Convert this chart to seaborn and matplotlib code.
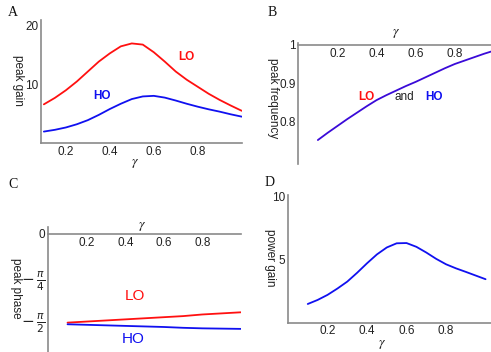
# four-panel figure: peak gain / frequency / phase / power gain vs gamma

import matplotlib
matplotlib.use("Agg")
import matplotlib.pyplot as plt
import seaborn as sns

# data
gamma = [0.1, 0.15, 0.2, 0.25, 0.3, 0.35, 0.4, 0.45, 0.5, 0.55,
         0.6, 0.65, 0.7, 0.75, 0.8, 0.85, 0.9, 0.95, 1.0]
lo_gain = [6.6, 7.7, 9.0, 10.5, 12.2, 13.9, 15.3, 16.5, 17.0, 16.8,
           15.5, 13.9, 12.2, 10.8, 9.6, 8.4, 7.35, 6.4, 5.5]
ho_gain = [1.95, 2.25, 2.65, 3.2, 3.9, 4.8, 5.8, 6.7, 7.5, 7.95,
           8.05, 7.75, 7.25, 6.7, 6.2, 5.75, 5.35, 4.9, 4.5]
peak_freq = [0.750, 0.769, 0.787, 0.805, 0.822, 0.839, 0.855, 0.868, 0.880, 0.892,
             0.903, 0.915, 0.927, 0.939, 0.950, 0.959, 0.968, 0.977, 0.985]
power_gain = [1.48, 1.8, 2.2, 2.7, 3.25, 3.95, 4.7, 5.4, 5.95, 6.28,
              6.3, 6.0, 5.55, 5.05, 4.62, 4.3, 4.02, 3.73, 3.44]

gamma_c = [0.1, 0.2, 0.3, 0.4, 0.5, 0.6, 0.7, 0.8, 0.9, 1.0]
lo_phase = [-1.63, -1.61, -1.59, -1.57, -1.55, -1.53, -1.51, -1.48, -1.46, -1.44]
ho_phase = [-1.66, -1.67, -1.68, -1.69, -1.70, -1.71, -1.725, -1.735, -1.74, -1.745]

x_ticks = [0.2, 0.4, 0.6, 0.8]
x_tick_labels = ["0.2", "0.4", "0.6", "0.8"]
phase_ticks = [0, -0.7853981634, -1.5707963268]
phase_tick_labels = ["0", r"$-\,\frac{\pi}{4}$", r"$-\,\frac{\pi}{2}$"]

RED = "#ff1010"
BLUE = "#1010f0"
MIX = "#3a0ad8"
SPINE = "#8a8a8a"

sns.set_style("white")
plt.rcParams["font.family"] = ["Liberation Sans", "DejaVu Sans"]
plt.rcParams["mathtext.fontset"] = "dejavusans"

W, H = 491, 352
fig = plt.figure(figsize=(W / 100, H / 100), dpi=100)


def style_axes(ax):
    for side in ["top", "right"]:
        ax.spines[side].set_visible(False)
    for side in ["left", "bottom"]:
        ax.spines[side].set_color(SPINE)
        ax.spines[side].set_linewidth(1.2)
    ax.tick_params(direction="in", length=2.5, width=0.8, color=SPINE,
                   labelsize=8.5, labelcolor="#222222", pad=2)
    ax.set_xticks(x_ticks)
    ax.set_xticklabels(x_tick_labels)
    ax.set_xlabel("")
    ax.set_ylabel("")


def gamma_label(ax, x, y, va):
    ax.text(x, y, r"$\gamma$", transform=ax.transData, ha="center", va=va,
            fontsize=10, math_fontfamily="stix", color="#222222", clip_on=False)


def px(x, y):
    return x / W, 1 - y / H


# A: peak gain
ax_a = fig.add_axes([41 / W, 1 - 143 / H, 200.7 / W, 123 / H])
sns.lineplot(x=gamma, y=lo_gain, ax=ax_a, color=RED, lw=1.3)
sns.lineplot(x=gamma, y=ho_gain, ax=ax_a, color=BLUE, lw=1.3)
ax_a.set_xlim(0.087, 1.0)
ax_a.set_ylim(0, 21)
style_axes(ax_a)
ax_a.set_yticks([10, 20])
ax_a.set_yticklabels(["10", "20"])
ax_a.text(0.75, 14.65, "LO", color=RED, fontsize=8.5, fontweight="bold", ha="center", va="center")
ax_a.text(0.363, 8.0, "HO", color=BLUE, fontsize=8.5, fontweight="bold", ha="center", va="center")
gamma_label(ax_a, 0.515, -2.3, "top")

# B: peak frequency
ax_b = fig.add_axes([298.3 / W, 1 - 164 / H, 192.7 / W, 121.3 / H])
sns.lineplot(x=gamma, y=peak_freq, ax=ax_b, color=MIX, lw=1.3)
ax_b.set_xlim(0, 0.985)
ax_b.set_ylim(0.687, 1.006)
style_axes(ax_b)
ax_b.spines["bottom"].set_position(("data", 1.0))
ax_b.set_yticks([0.8, 0.9, 1.0])
ax_b.set_yticklabels(["0.8", "0.9", "1"])
ax_b.text(0.346, 0.863, "LO", color=RED, fontsize=8.5, fontweight="bold", ha="center", va="center")
ax_b.text(0.54, 0.863, "and", color="#222222", fontsize=8.5, ha="center", va="center")
ax_b.text(0.694, 0.863, "HO", color=BLUE, fontsize=8.5, fontweight="bold", ha="center", va="center")
gamma_label(ax_b, 0.5, 1.012, "bottom")

# C: peak phase
ax_c = fig.add_axes([48.3 / W, 0, 192.5 / W, 125.3 / H])
sns.lineplot(x=gamma_c, y=lo_phase, ax=ax_c, color=RED, lw=1.3)
sns.lineplot(x=gamma_c, y=ho_phase, ax=ax_c, color=BLUE, lw=1.3)
ax_c.set_xlim(0, 1.0)
ax_c.set_ylim(-2.17, 0.134)
style_axes(ax_c)
ax_c.spines["bottom"].set_position(("data", 0.0))
ax_c.set_yticks(phase_ticks)
ax_c.set_yticklabels(phase_tick_labels)
ax_c.tick_params(axis="y", labelsize=11)
ax_c.get_yticklabels()[0].set_fontsize(8.5)
ax_c.text(0.45, -1.14, "LO", color=RED, fontsize=11, ha="center", va="center")
ax_c.text(0.44, -1.93, "HO", color=BLUE, fontsize=11, ha="center", va="center")
gamma_label(ax_c, 0.485, 0.01, "bottom")

# D: power gain
ax_d = fig.add_axes([288 / W, 1 - 322.7 / H, 202.5 / W, 127.7 / H])
sns.lineplot(x=gamma, y=power_gain, ax=ax_d, color=BLUE, lw=1.3)
ax_d.set_xlim(0, 1.025)
ax_d.set_ylim(0, 10.1)
style_axes(ax_d)
ax_d.set_yticks([5, 10])
ax_d.set_yticklabels(["5", "10"])
gamma_label(ax_d, 0.474, -1.1, "top")

# y labels
ylabel_kw = dict(rotation=-90, ha="center", va="center", fontsize=8.5, color="#222222")
fig.text(*px(17.5, 80), "peak gain", **ylabel_kw)
fig.text(*px(273, 98), "peak frequency", **ylabel_kw)
fig.text(*px(16, 288), "peak phase", **ylabel_kw)
fig.text(*px(270, 258), "power gain", **ylabel_kw)

# panel letters
letter_kw = dict(ha="center", va="center", fontsize=10, family="Liberation Serif", color="#111111")
fig.text(*px(13, 13), "A", **letter_kw)
fig.text(*px(272, 12), "B", **letter_kw)
fig.text(*px(13, 185), "C", **letter_kw)
fig.text(*px(270, 183), "D", **letter_kw)

fig.savefig("out.png", dpi=100)
